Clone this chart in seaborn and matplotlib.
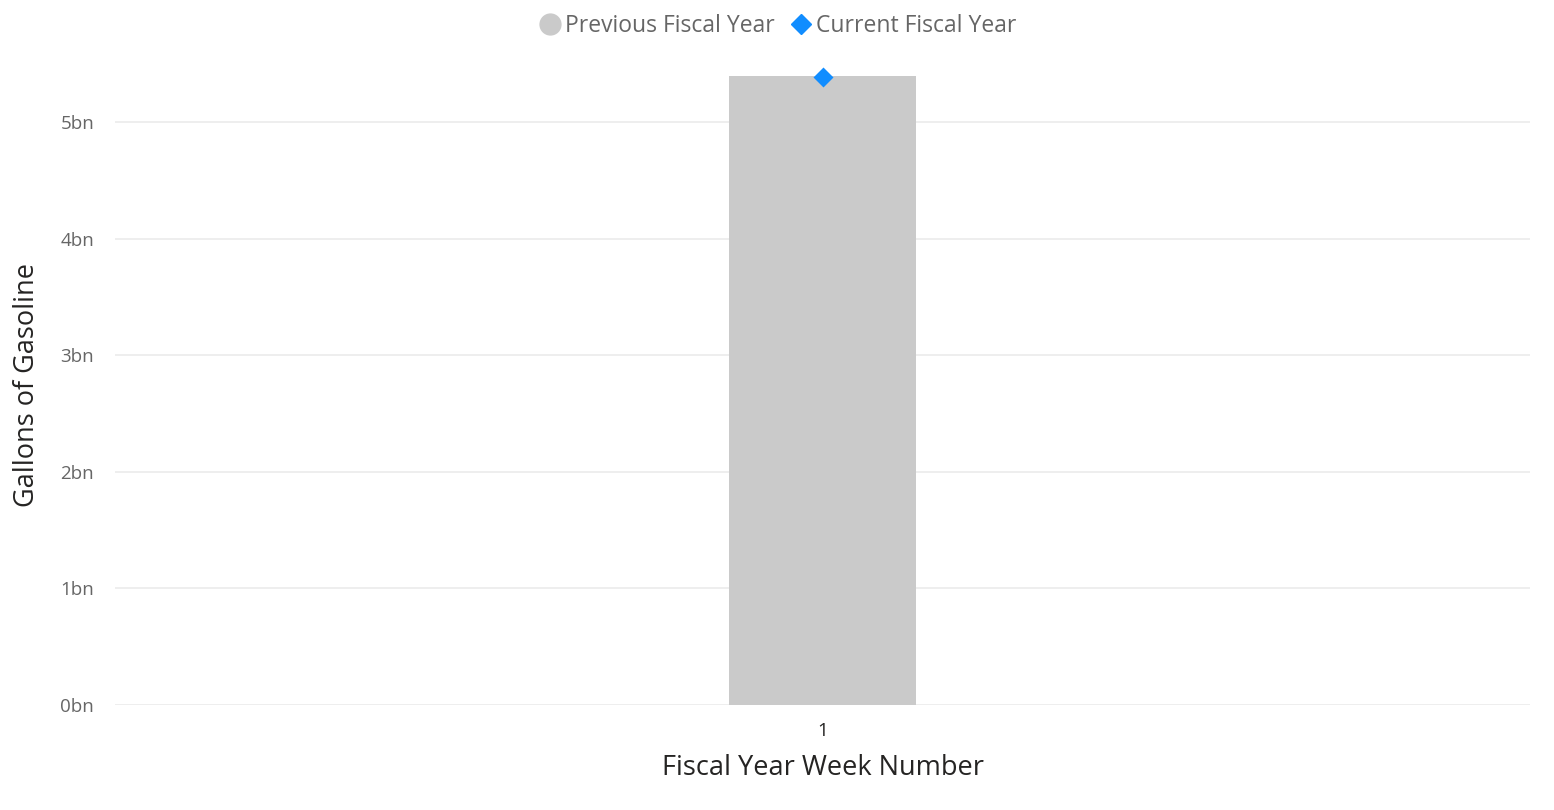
"""Weekly gasoline volume: previous vs current fiscal year."""

import matplotlib.pyplot as plt
import pandas as pd
import seaborn as sns
from matplotlib.lines import Line2D
from matplotlib.ticker import FuncFormatter

weeks = ["1"]
previous_fy = [5.40e9]
current_fy = [5.39e9]

df = pd.DataFrame({"week": weeks, "previous": previous_fy, "current": current_fy})

sns.set_theme(style="white")
plt.rcParams["font.family"] = ["Open Sans", "DejaVu Sans"]

fig = plt.figure(figsize=(15.54, 8.1), dpi=100)
ax = fig.add_axes([0.074, 0.1296, 0.9106, 0.7914])

# ── Previous year bar + current year diamond ─────────────────────────────
sns.barplot(data=df, x="week", y="previous", color="#CACACA", width=0.132,
            saturation=1, linewidth=0, ax=ax, zorder=2)
sns.pointplot(data=df, x="week", y="current", color="#118DFF", markers="D",
              linestyles="none", markersize=8, errorbar=None, ax=ax, zorder=3)

ax.set_ylim(0, 5.5e9)
ax.set_xlim(-0.5, 0.5)
ax.set_yticks([0, 1e9, 2e9, 3e9, 4e9, 5e9])
ax.yaxis.set_major_formatter(FuncFormatter(lambda v, _: f"{v / 1e9:.0f}bn"))
ax.yaxis.grid(True, color="#EDEDED", linewidth=1.3, zorder=0)
ax.set_axisbelow(True)
sns.despine(ax=ax, left=True, bottom=True, top=True, right=True)

ax.tick_params(axis="y", labelsize=13.5, labelcolor="#666666", length=0, pad=15)
ax.tick_params(axis="x", labelsize=13.5, labelcolor="#252423", length=0, pad=12)
ax.set_xlabel("Fiscal Year Week Number", fontsize=19.5, color="#252423", labelpad=10)
ax.set_ylabel("Gallons of Gasoline", fontsize=19.5, color="#252423", labelpad=14)

handles = [
    Line2D([], [], marker="o", linestyle="none", color="#CACACA", markersize=15),
    Line2D([], [], marker="D", linestyle="none", color="#118DFF", markersize=10),
]
fig.legend(handles, ["Previous Fiscal Year", "Current Fiscal Year"],
           loc="upper center", bbox_to_anchor=(0.5, 1.008), ncol=2, frameon=False,
           fontsize=16.5, labelcolor="#666666", handletextpad=0.1,
           columnspacing=0.6, handlelength=1.1)

fig.savefig("out.png", dpi=100)
plt.close(fig)
